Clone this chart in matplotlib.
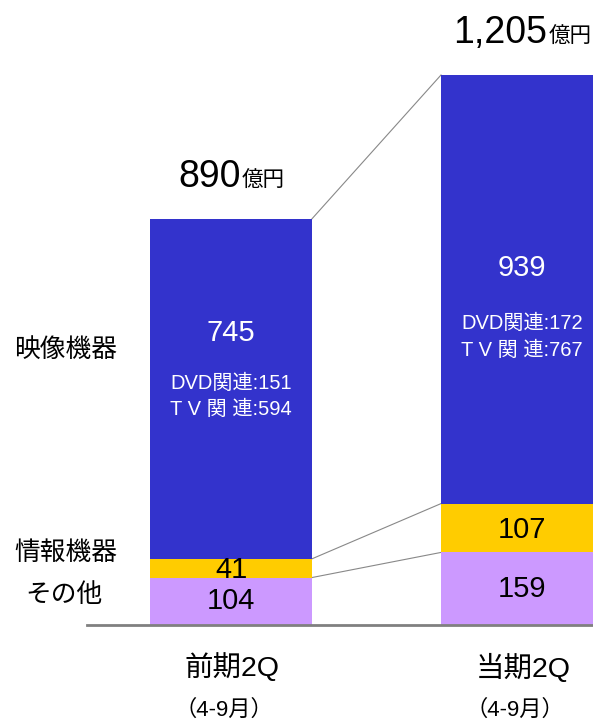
import matplotlib.pyplot as plt

plt.rcParams['font.family'] = ['Liberation Sans', 'Noto Sans CJK JP', 'DejaVu Sans']

# データ（億円）
periods = ["前期2Q", "当期2Q"]
sub_labels = ["（4-9月）", "（4-9月）"]
segments = ["その他", "情報機器", "映像機器"]
sonota = [104, 159]
joho = [41, 107]
eizo = [745, 939]
totals = [890, 1205]
dvd = [151, 172]
tv = [594, 767]

colors = ["#CC99FF", "#FFCC00", "#3333CC"]

W, H = 593, 722
fig = plt.figure(figsize=(W / 100, H / 100), dpi=100)
ax = fig.add_axes([0, 0, 1, 1])

# 軸の範囲（ピクセル配置に合わせる）
px_per_unit = 550 / 1205
base_px = 97
ax.set_xlim(-231 / 291, (W - 231) / 291)
ax.set_ylim(-base_px / px_per_unit, (H - base_px) / px_per_unit)
ax.axis("off")

def py(pix):
    # 画像上のy座標(上から)をデータ座標へ
    return (H - pix - base_px) / px_per_unit

def pxx(pix):
    return (pix - 231) / 291

x = [0, 1]
width = 162 / 291
bottom = [0, 0]
for vals, c in zip([sonota, joho, eizo], colors):
    ax.bar(x, vals, width, bottom=bottom, color=c, zorder=2)
    bottom = [b + v for b, v in zip(bottom, vals)]

# 基線
ax.plot([pxx(87), pxx(W)], [0, 0], color="#808080", lw=2, zorder=3, clip_on=False)

# 連結線
hw = width / 2
for lvl0, lvl1 in [(totals[0], totals[1]),
                   (sonota[0] + joho[0], sonota[1] + joho[1]),
                   (sonota[0], sonota[1])]:
    ax.plot([0 + hw, 1 - hw], [lvl0, lvl1], color="#888888", lw=0.8, zorder=1)

# 棒内ラベル
for i in range(2):
    ax.text(x[i], sonota[i] / 2, str(sonota[i]), ha="center", va="center", fontsize=21, color="black", zorder=4)
    ax.text(x[i], sonota[i] + joho[i] / 2 - 4, str(joho[i]), ha="center", va="center", fontsize=21, color="black", zorder=4)

eizo_y = [py(333), py(268)]
dvd_y = [py(383), py(323)]
tv_y = [py(409), py(350)]
for i in range(2):
    ax.text(x[i], eizo_y[i], str(eizo[i]), ha="center", va="center", fontsize=21, color="white")
    ax.text(x[i], dvd_y[i], f"DVD関連:{dvd[i]}", ha="center", va="center", fontsize=14.5, color="white")
    ax.text(x[i], tv_y[i], f"T V 関 連:{tv[i]}", ha="center", va="center", fontsize=14.5, color="white")

# 合計（数字＋億円を棒の中心に揃える）
fig.canvas.draw()
renderer = fig.canvas.get_renderer()
for i in range(2):
    num = ax.annotate(f"{totals[i]:,}", xy=(x[i], totals[i]), xytext=(0, 23),
                      textcoords="offset points", ha="left", va="baseline", fontsize=27)
    unit = ax.annotate("億円", xy=(x[i], totals[i]), xytext=(0, 23),
                       textcoords="offset points", ha="left", va="baseline", fontsize=15.5)
    wn = num.get_window_extent(renderer).width * 72 / fig.dpi
    wu = unit.get_window_extent(renderer).width * 72 / fig.dpi
    start = -(wn + wu) / 2
    num.set_position((start, 23))
    unit.set_position((start + wn + 1, 23))

# 左側の区分ラベル
seg_x = pxx(66)
ax.text(seg_x, py(350), "映像機器", ha="center", va="center", fontsize=18.5)
ax.text(seg_x, py(553), "情報機器", ha="center", va="center", fontsize=18.5)
ax.text(pxx(64), py(595), "その他", ha="center", va="center", fontsize=18.5)

# 期間ラベル
period_x = [pxx(232), pxx(523)]
sub_x = [pxx(224), pxx(515)]
for i in range(2):
    ax.text(period_x[i], py(668), periods[i], ha="center", va="center", fontsize=20.5)
    ax.text(sub_x[i], py(710), sub_labels[i], ha="center", va="center", fontsize=16)

plt.savefig("out.png", dpi=100)
